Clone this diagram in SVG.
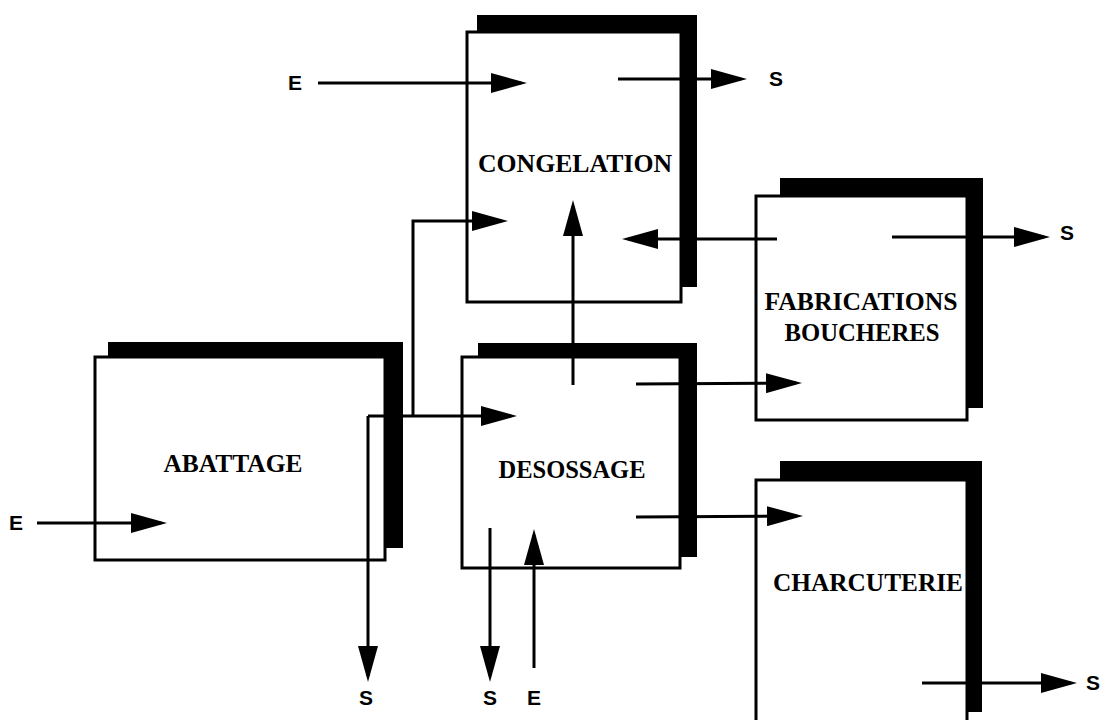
<svg xmlns="http://www.w3.org/2000/svg" width="1109" height="720" viewBox="0 0 1109 720">
<style>
.shadow{fill:#000;}
.box{fill:#fff;stroke:#000;stroke-width:3;}
.title{font-family:"Liberation Serif",serif;font-weight:bold;font-size:25px;fill:#000;text-anchor:middle;}
.lbl{font-family:"Liberation Sans",sans-serif;font-weight:bold;font-size:21px;fill:#000;text-anchor:middle;}
.conn{fill:none;stroke:#000;stroke-width:3;marker-end:url(#arrow);}
.line{fill:none;stroke:#000;stroke-width:3;}
</style>
<defs>
<marker id="arrow" markerUnits="userSpaceOnUse" viewBox="0 0 36 20" refX="30" refY="10" markerWidth="36" markerHeight="20" orient="auto">
<path d="M0,0 L36,10 L0,20 Z" fill="#000"/>
</marker>
</defs>
<rect width="1109" height="720" fill="#fff"/>
<g id="node-congelation">
<rect class="shadow" x="477" y="15" width="220" height="272"/>
<rect class="box" x="467" y="32" width="214" height="270"/>
<text class="title" x="575" y="172" textLength="194" lengthAdjust="spacingAndGlyphs">CONGELATION</text>
</g>
<g id="node-abattage">
<rect class="shadow" x="108" y="342" width="295" height="206"/>
<rect class="box" x="95" y="357" width="290" height="203"/>
<text class="title" x="233" y="472" textLength="139" lengthAdjust="spacingAndGlyphs">ABATTAGE</text>
</g>
<g id="node-desossage">
<rect class="shadow" x="478" y="343" width="219" height="214"/>
<rect class="box" x="462" y="357" width="218" height="211"/>
<text class="title" x="572" y="478" textLength="147" lengthAdjust="spacingAndGlyphs">DESOSSAGE</text>
</g>
<g id="node-fabrications">
<rect class="shadow" x="780" y="178" width="203" height="230"/>
<rect class="box" x="756" y="196" width="211" height="224"/>
<text class="title" x="861" y="310" textLength="193" lengthAdjust="spacingAndGlyphs">FABRICATIONS</text>
<text class="title" x="862" y="341" textLength="155" lengthAdjust="spacingAndGlyphs">BOUCHERES</text>
</g>
<g id="node-charcuterie">
<rect class="shadow" x="780" y="461" width="202" height="251"/>
<rect class="box" x="756" y="480" width="211" height="250"/>
<text class="title" x="868" y="591" textLength="190" lengthAdjust="spacingAndGlyphs">CHARCUTERIE</text>
</g>
<g id="connectors">
<path class="conn" d="M318,83 L521,83"/>
<path class="conn" d="M618,79 L741,79"/>
<path class="conn" d="M368,416 L368,676"/>
<path class="conn" d="M368,416 L511,416"/>
<path class="conn" d="M413,416 L413,221 L502,221"/>
<path class="conn" d="M573,385 L573,206"/>
<path class="conn" d="M777,239 L628,239"/>
<path class="conn" d="M892,237 L1044,237"/>
<path class="conn" d="M636,384 L796,383"/>
<path class="conn" d="M636,517 L797,516"/>
<path class="conn" d="M490,528 L490,676"/>
<path class="conn" d="M534,668 L534,535"/>
<path class="conn" d="M37,523 L161,523"/>
<path class="conn" d="M922,683 L1071,683"/>
</g>
<g id="labels">
<text class="lbl" x="295" y="90">E</text>
<text class="lbl" x="776" y="86">S</text>
<text class="lbl" x="1067" y="240">S</text>
<text class="lbl" x="16" y="530">E</text>
<text class="lbl" x="366" y="705">S</text>
<text class="lbl" x="490" y="705">S</text>
<text class="lbl" x="534" y="705">E</text>
<text class="lbl" x="1093" y="690">S</text>
</g>
</svg>
